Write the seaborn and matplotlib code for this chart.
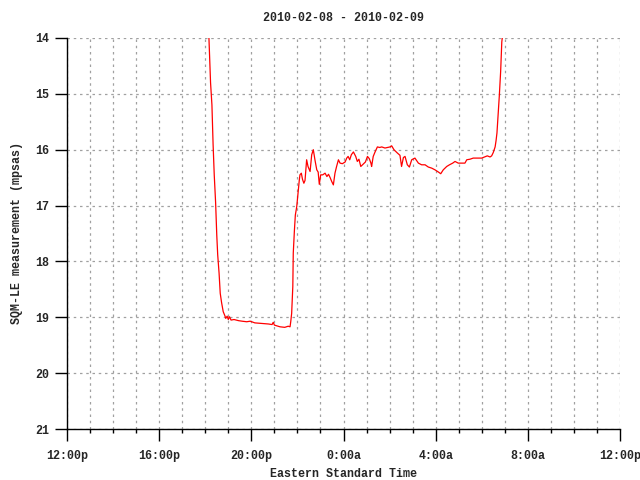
import matplotlib
matplotlib.use("Agg")
import matplotlib.pyplot as plt
import seaborn as sns
from matplotlib.ticker import FixedLocator, MultipleLocator

# -------- DATA --------
# hours after 12:00 noon on 2010-02-08
hours = [5.80, 6.05, 6.16, 6.23, 6.29, 6.34, 6.39, 6.45, 6.50, 6.54, 6.60, 6.65,
         6.71, 6.78, 6.85, 6.89, 6.95, 7.00, 7.05, 7.12, 7.25, 7.44, 7.60, 7.80,
         7.95, 8.15, 8.45, 8.74, 8.90, 8.95, 9.00, 9.24, 9.45, 9.60, 9.68, 9.71,
         9.75, 9.80, 9.82, 9.87, 9.91, 9.97, 10.04, 10.08, 10.11, 10.17, 10.22,
         10.28, 10.33, 10.40, 10.46, 10.55, 10.62, 10.69, 10.76, 10.84, 10.90,
         10.95, 11.01, 11.10, 11.20, 11.28, 11.35, 11.42, 11.49, 11.56, 11.63,
         11.70, 11.78, 11.85, 11.95, 12.07, 12.14, 12.20, 12.27, 12.34, 12.43,
         12.53, 12.60, 12.67, 12.75, 12.85, 12.95, 13.04, 13.12, 13.19, 13.22,
         13.29, 13.37, 13.47, 13.57, 13.66, 13.80, 13.92, 14.02, 14.09, 14.19,
         14.34, 14.45, 14.52, 14.60, 14.67, 14.77, 14.86, 14.96, 15.10, 15.25,
         15.39, 15.54, 15.68, 15.83, 15.97, 16.12, 16.22, 16.33, 16.48, 16.60,
         16.74, 16.84, 16.98, 17.15, 17.27, 17.35, 17.49, 17.63, 17.85, 18.00,
         18.12, 18.24, 18.36, 18.43, 18.50, 18.58, 18.62, 18.66, 18.72, 18.76,
         18.82, 18.87, 18.89, 19.00, 19.20]
sqm = [11.0, 13.2, 14.0, 14.8, 15.2, 15.9, 16.45, 16.95, 17.53, 17.88, 18.21, 18.57,
       18.74, 18.90, 18.97, 19.02, 18.98, 19.04, 18.99, 19.05, 19.04, 19.06, 19.07, 19.08,
       19.07, 19.10, 19.11, 19.12, 19.13, 19.09, 19.14, 19.17, 19.18, 19.16, 19.17, 19.08,
       18.93, 18.45, 17.85, 17.44, 17.17, 17.02, 16.72, 16.55, 16.45, 16.42, 16.53,
       16.60, 16.55, 16.18, 16.30, 16.39, 16.09, 16.00, 16.18, 16.36, 16.40,
       16.62, 16.45, 16.45, 16.42, 16.48, 16.44, 16.50, 16.57, 16.63, 16.42,
       16.30, 16.18, 16.24, 16.25, 16.22, 16.15, 16.12, 16.18, 16.09, 16.04,
       16.12, 16.21, 16.17, 16.30, 16.26, 16.22, 16.12, 16.16, 16.24, 16.30,
       16.12, 16.04, 15.95, 15.96, 15.95, 15.97, 15.96, 15.95, 15.93, 16.00,
       16.06, 16.10, 16.30, 16.14, 16.12, 16.27, 16.31, 16.18, 16.15, 16.24,
       16.27, 16.27, 16.31, 16.33, 16.36, 16.40, 16.43, 16.36, 16.30, 16.27,
       16.24, 16.21, 16.24, 16.24, 16.24, 16.18, 16.17, 16.15, 16.15, 16.15,
       16.13, 16.11, 16.13, 16.11, 16.05, 15.95, 15.84, 15.70, 15.32, 15.05,
       14.60, 14.07, 14.00, 12.8, 11.0]

x_ticks = [0, 4, 8, 12, 16, 20, 24]
x_labels = ["12:00p", "16:00p", "20:00p", "0:00a", "4:00a", "8:00a", "12:00p"]
y_ticks = [14, 15, 16, 17, 18, 19, 20, 21]

# -------- PLOT --------
sns.set_style("white")
plt.rcParams['font.family'] = ['Liberation Mono', 'DejaVu Sans Mono']
plt.rcParams['font.weight'] = 'bold'
FS = 8.4

fig = plt.figure(figsize=(6.4, 4.8), dpi=100)
ax = fig.add_axes([67 / 640, 1 - 429 / 480, 553 / 640, 391 / 480])

sns.lineplot(x=hours, y=sqm, ax=ax, color='red', linewidth=0.9, estimator=None)

ax.set_xlim(0, 24)
ax.set_ylim(21, 14)
ax.xaxis.set_major_locator(FixedLocator(x_ticks))
ax.set_xticklabels(x_labels)
ax.xaxis.set_minor_locator(MultipleLocator(1))
ax.yaxis.set_major_locator(FixedLocator(y_ticks))

ax.grid(True, which='both', axis='x', color='#a0a0a0', linestyle=(0, (2, 3)), linewidth=0.9)
ax.grid(True, which='major', axis='y', color='#a0a0a0', linestyle=(0, (2, 3)), linewidth=0.9)

for side in ['top', 'right']:
    ax.spines[side].set_visible(False)
for side in ['left', 'bottom']:
    ax.spines[side].set_color('black')
    ax.spines[side].set_linewidth(1.0)

ax.tick_params(axis='x', which='major', direction='out', length=8.6, width=1,
               color='black', labelsize=FS, pad=6.5, bottom=True)
ax.tick_params(axis='x', which='minor', direction='out', length=3, width=1,
               color='black', bottom=True)
ax.tick_params(axis='y', which='major', direction='out', length=8.6, width=1,
               color='black', labelsize=FS, pad=4, left=True)

ax.set_title("2010-02-08 - 2010-02-09", fontsize=FS, fontweight='bold', pad=12)
ax.set_xlabel("Eastern Standard Time", fontsize=FS, fontweight='bold', labelpad=4)
ax.set_ylabel("SQM-LE measurement (mpsas)", fontsize=FS, fontweight='bold', labelpad=9)

fig.savefig("out.png", dpi=100)
